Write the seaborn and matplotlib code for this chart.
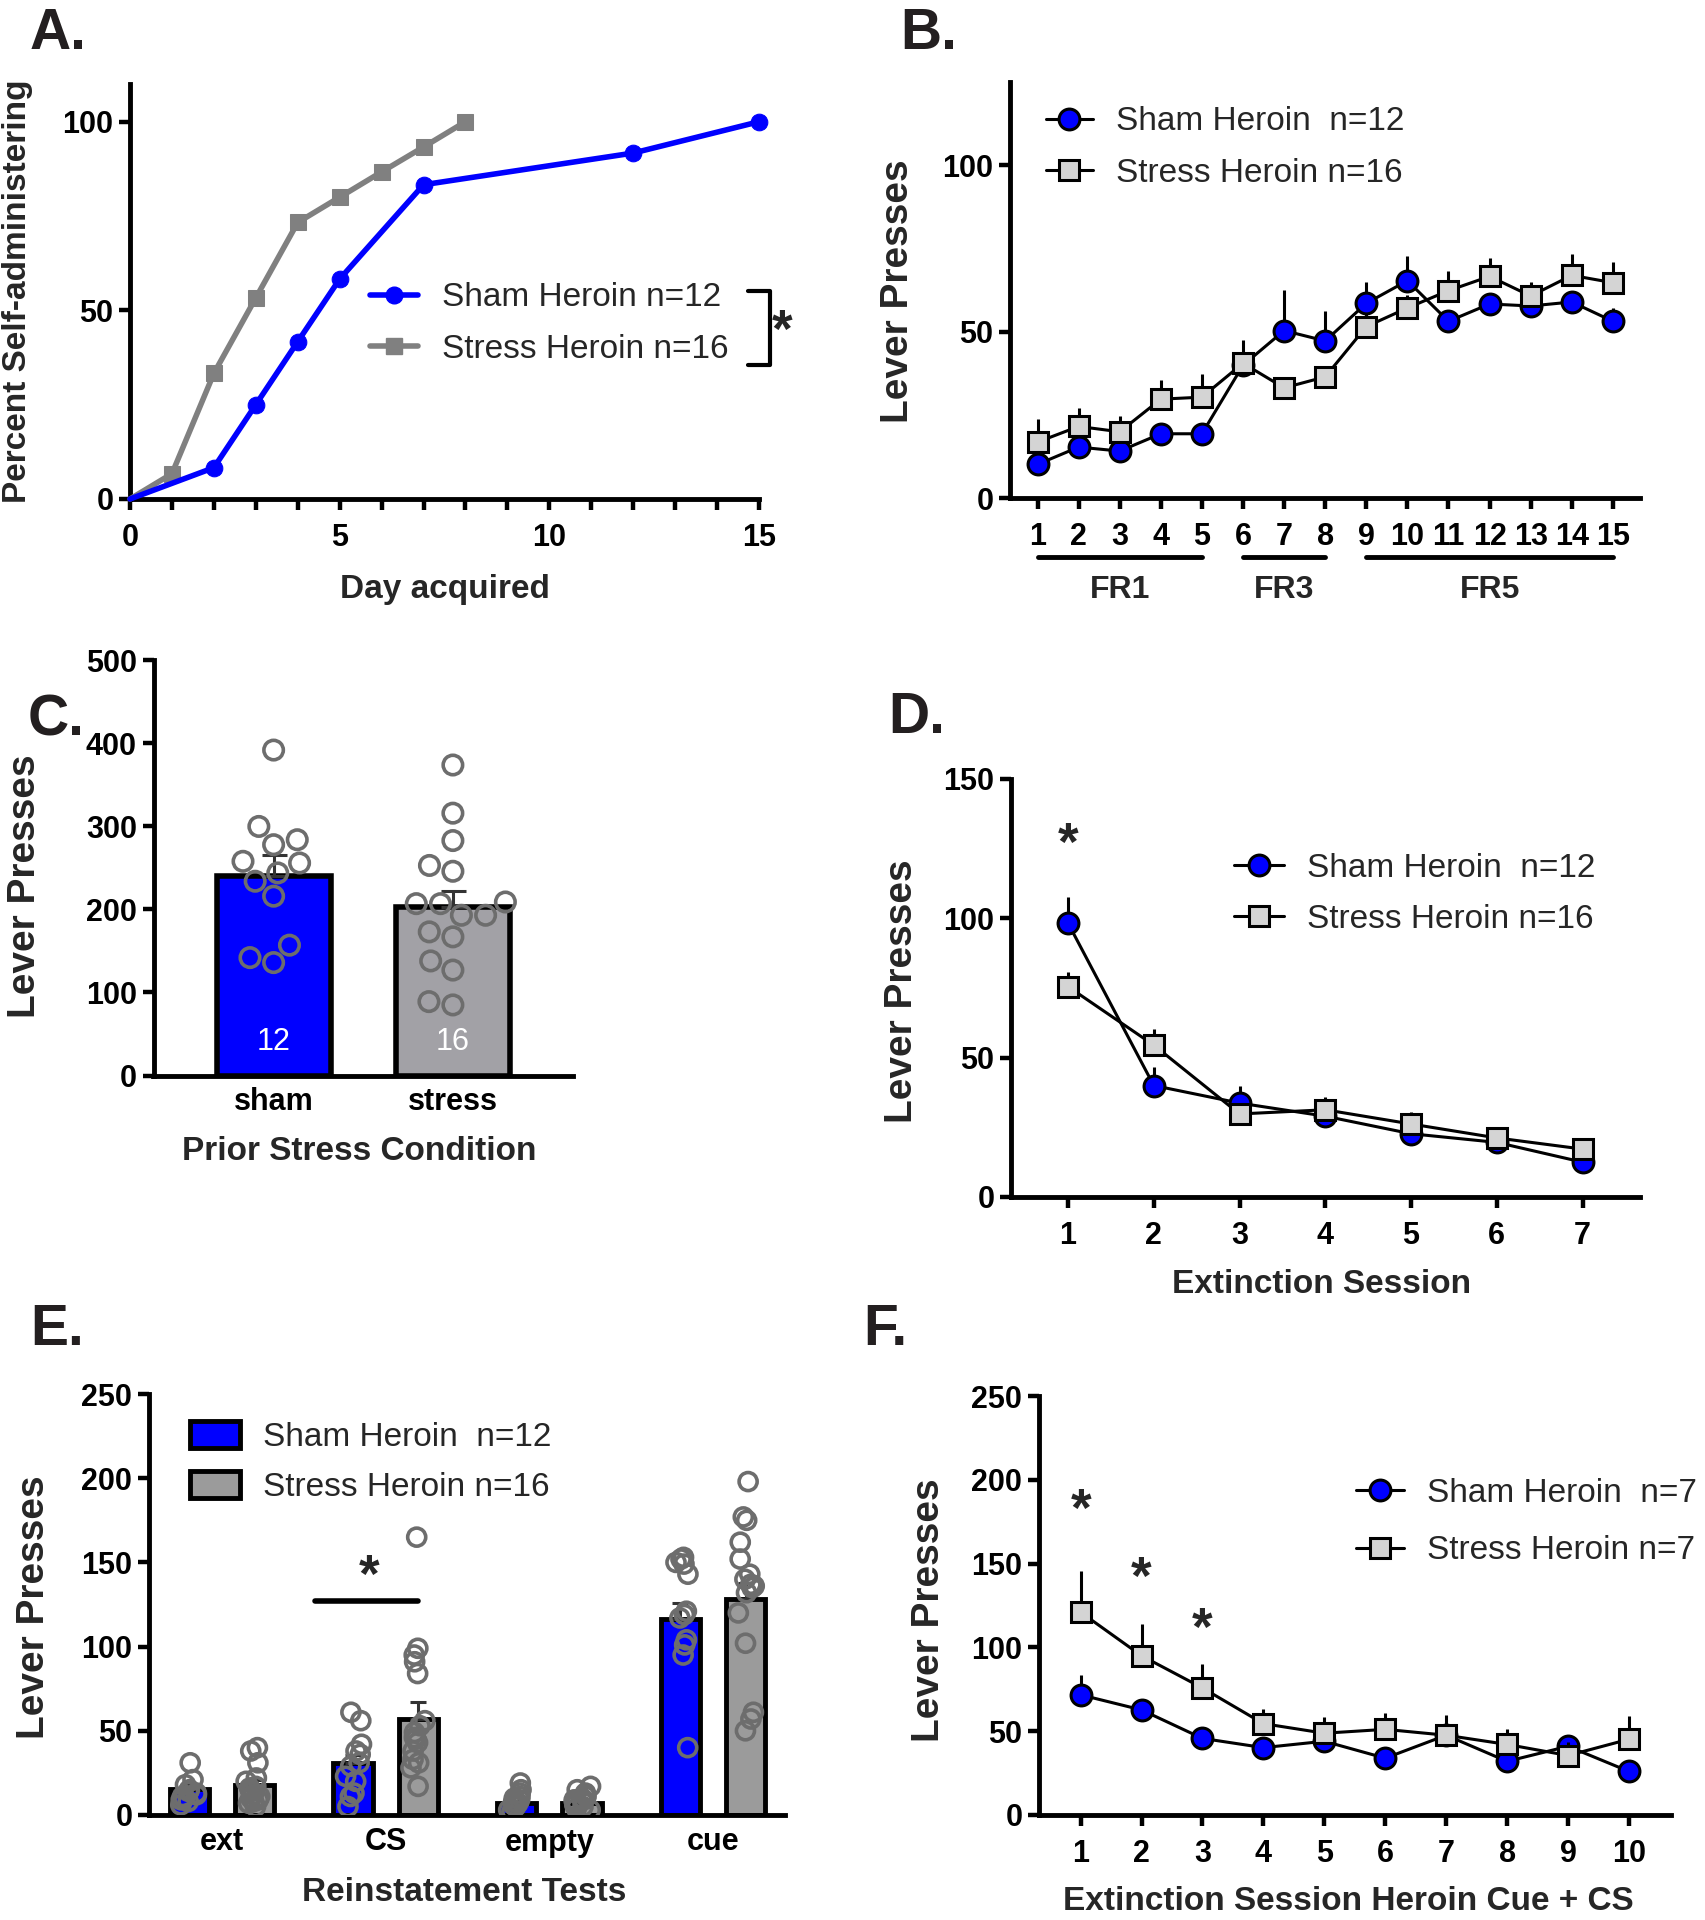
import numpy as np
import pandas as pd
import matplotlib
matplotlib.use("Agg")
import matplotlib.pyplot as plt
from matplotlib.lines import Line2D
from matplotlib.patches import Patch
from matplotlib.container import BarContainer
from matplotlib.ticker import MultipleLocator
import seaborn as sns

# ---------------- DATA ----------------
# Panel A
A_sham_day = [0, 2, 3, 4, 5, 7, 12, 15]
A_sham_pct = [0, 8.3, 25.0, 41.7, 58.3, 83.3, 91.7, 100]
A_stress_day = [0, 1, 2, 3, 4, 5, 6, 7, 8]
A_stress_pct = [0, 6.7, 33.3, 53.3, 73.3, 80.0, 86.7, 93.3, 100]
A_labels = ["Sham Heroin n=12", "Stress Heroin n=16"]

# Panel B
B_session = list(range(1, 16))
B_sham = [10.1, 15.3, 14.1, 19.3, 19.3, 39.9, 50.3, 47.2, 58.5, 65.3, 53.1, 58.3, 57.7, 58.9, 53.1]
B_sham_sem = [2, 2, 2, 2, 2, 2, 12.3, 9, 6.3, 7.5, 2, 2, 2, 2, 4]
B_stress = [16.8, 21.5, 19.9, 29.7, 30.3, 40.5, 33.1, 36.4, 51.5, 57.1, 62.3, 66.6, 60.7, 66.9, 64.7]
B_stress_sem = [6.9, 5.5, 4.6, 5.9, 7.1, 7.0, 3, 3, 4, 4, 5.8, 5.5, 4.3, 6.3, 6.3]
B_phases = ["FR1", "FR3", "FR5"]
B_phase_start = [1, 6, 9]
B_phase_end = [5, 8, 15]
LINE_labels = ["Sham Heroin  n=12", "Stress Heroin n=16"]

# Panel C
C_groups = ["sham", "stress"]
C_means = [240, 203]
C_sem = [25, 19]
C_n = ["12", "16"]
C_sham_pts = [392, 284, 300, 278, 256, 244, 234, 216, 157, 136, 142, 258]
C_stress_pts = [374, 316, 283, 246, 253, 207, 207, 209, 193, 193, 167, 173, 127, 138, 85, 89]

# Panel D
D_session = list(range(1, 8))
D_sham = [98.3, 40.0, 33.7, 29.0, 22.7, 19.6, 12.5]
D_sham_sem = [9.4, 6.5, 6.0, 2.5, 2, 2, 2]
D_stress = [75.5, 54.5, 29.8, 31.3, 26.2, 21.2, 17.2]
D_stress_sem = [5.2, 5.8, 3, 4.7, 4.4, 3, 3]
D_star_session = [1]
D_star_y = [126]

# Panel E
E_tests = ["ext", "CS", "empty", "cue"]
E_groups = ["Sham Heroin  n=12", "Stress Heroin n=16"]
E_sham_means = [15.6, 30.7, 7.0, 116.3]
E_stress_means = [17.9, 57.3, 7.0, 128.5]
E_sham_sem = [2.5, 5, 1.5, 9.5]
E_stress_sem = [3, 10, 1, 9]
E_sham_pts = {
    "ext": [31, 21, 18, 15, 13, 12, 11, 10, 9, 8, 6, 14],
    "CS": [61, 56, 42, 38, 36, 31, 29, 23, 20, 13, 11, 5],
    "empty": [19, 15, 13, 11, 10, 9, 8, 7, 6, 5, 3, 2],
    "cue": [153, 152, 149, 150, 143, 121, 119, 117, 104, 101, 95, 40],
}
E_stress_pts = {
    "ext": [40, 38, 31, 22, 20, 17, 15, 12, 10, 9, 8, 7, 5, 11, 14, 16],
    "CS": [165, 99, 95, 91, 84, 56, 53, 49, 46, 43, 38, 33, 31, 28, 17, 45],
    "empty": [17, 15, 13, 12, 11, 10, 9, 9, 8, 8, 7, 6, 6, 5, 4, 3],
    "cue": [198, 177, 175, 162, 152, 143, 137, 136, 135, 132, 120, 102, 61, 57, 50, 140],
}
E_sig_from, E_sig_to, E_sig_y = 0.57, 1.20, 127
E_star_x, E_star_y = 0.90, 141

# Panel F
F_session = list(range(1, 11))
F_sham = [71.7, 62.7, 45.7, 40.2, 44.0, 33.9, 47.6, 32.0, 41.0, 26.0]
F_sham_sem = [12, 4, 3, 3, 3, 3, 4, 3, 4, 3]
F_stress = [121, 95, 75.8, 54.5, 48.8, 51.1, 47.6, 42.1, 35.5, 45.2]
F_stress_sem = [24.6, 19, 14.4, 9, 9.5, 10, 12, 9, 8, 14]
F_labels = ["Sham Heroin  n=7", "Stress Heroin n=7"]
F_star_session = [1, 2, 3]
F_star_y = [181, 140, 110]

# ---------------- STYLE ----------------
sns.set_theme(style="ticks")
plt.rcParams["font.family"] = ["Liberation Sans", "DejaVu Sans"]
BLUE = "#0000FF"
GREY_A = "#808080"
GREY_C = "#A2A1A6"
GREY_E = "#9B9B9B"
SQ = "#D4D4D4"
PT = "#6D6D6D"
LETTER = "#231F20"
TICK_FS = 22
XLAB_FS = 24
YLAB_FS = 28
LEG_FS = 24
STAR_FS = 38

W, H = 1705, 1920
fig = plt.figure(figsize=(W / 100, H / 100), dpi=100)


def add_ax(left, right, top, bottom):
    return fig.add_axes([left / W, 1 - bottom / H, (right - left) / W, (bottom - top) / H])


def style(ax, xticks=True):
    for s in ["top", "right"]:
        ax.spines[s].set_visible(False)
    for s in ["left", "bottom"]:
        ax.spines[s].set_linewidth(3.5)
        ax.spines[s].set_color("black")
    ax.tick_params(axis="both", which="both", width=3.2, length=8, color="black",
                   labelsize=TICK_FS, labelcolor="black", direction="out")
    ax.tick_params(axis="x", pad=9)
    ax.tick_params(axis="y", pad=4)
    if not xticks:
        ax.tick_params(axis="x", length=0)
    for lab in ax.get_xticklabels() + ax.get_yticklabels():
        lab.set_fontweight("bold")
    ax.set_facecolor("white")


def letter(x, y, s):
    fig.text(x / W, 1 - y / H, s, fontsize=41, fontweight="bold", color=LETTER,
             ha="left", va="baseline")


def legend(ax, x, y, handles=None, labels=None, hl=1.43, ls=0.6, hh=0.7):
    kw = dict(loc="center left", bbox_to_anchor=(x / W, 1 - y / H),
              bbox_transform=fig.transFigure, frameon=False, fontsize=LEG_FS,
              handlelength=hl, handletextpad=0.7, labelspacing=ls, borderpad=0,
              borderaxespad=0, numpoints=1, handleheight=hh)
    if handles is None:
        leg = ax.legend(**kw)
    else:
        leg = ax.legend(handles, labels, **kw)
    return leg


def line_panel(ax, x, ys, es, yst, est, labels):
    zeros = np.zeros(len(x))
    ax.errorbar(x, ys, yerr=[zeros, es], fmt="none", ecolor="black", elinewidth=2.2,
                capsize=0, zorder=2)
    sns.lineplot(x=x, y=ys, ax=ax, color="black", linewidth=2.2, marker="o",
                 markersize=15, markerfacecolor=BLUE, markeredgecolor="black",
                 markeredgewidth=2.2, label=labels[0], zorder=3, errorbar=None)
    ax.errorbar(x, yst, yerr=[zeros, est], fmt="none", ecolor="black", elinewidth=2.2,
                capsize=0, zorder=4)
    sns.lineplot(x=x, y=yst, ax=ax, color="black", linewidth=2.2, marker="s",
                 markersize=15, markerfacecolor=SQ, markeredgecolor="black",
                 markeredgewidth=2.2, label=labels[1], zorder=5, errorbar=None)


# ---------------- PANEL A ----------------
axA = add_ax(130, 759, 84, 499)
sns.lineplot(x=A_sham_day, y=A_sham_pct, ax=axA, color=BLUE, linewidth=4, marker="o",
             markersize=12, markeredgecolor=BLUE, markerfacecolor=BLUE,
             markevery=list(range(1, len(A_sham_day))), errorbar=None, zorder=4,
             clip_on=False)
sns.lineplot(x=A_stress_day, y=A_stress_pct, ax=axA, color=GREY_A, linewidth=4, marker="s",
             markersize=12, markeredgecolor=GREY_A, markerfacecolor=GREY_A,
             markevery=list(range(1, len(A_stress_day))), errorbar=None, zorder=3,
             clip_on=False)
axA.set_xlim(0, 15)
axA.set_ylim(0, 110)
axA.set_xticks([0, 5, 10, 15])
axA.xaxis.set_minor_locator(MultipleLocator(1))
axA.set_yticks([0, 50, 100])
axA.set_xlabel("Day acquired", fontsize=XLAB_FS, fontweight="bold")
axA.set_ylabel("Percent Self-administering", fontsize=24, fontweight="bold")
axA.xaxis.set_label_coords(0.5, -0.18)
axA.yaxis.set_label_coords(-0.154, 0.5)
style(axA)
hA = [Line2D([], [], color=BLUE, linewidth=4, marker="o", markersize=12),
      Line2D([], [], color=GREY_A, linewidth=4, marker="s", markersize=12)]
legend(axA, 370, 323.5, hA, A_labels, hl=1.45)
axA.plot([0.9825, 1.0175, 1.0175, 0.9825], [0.501, 0.501, 0.323, 0.323],
         transform=axA.transAxes, clip_on=False, color="black", linewidth=3)
axA.text(1.037, 0.40, "*", transform=axA.transAxes, fontsize=STAR_FS,
         fontweight="bold", ha="center", va="center")

# ---------------- PANEL B ----------------
axB = add_ax(1010, 1640, 82, 498)
line_panel(axB, B_session, B_sham, B_sham_sem, B_stress, B_stress_sem, LINE_labels)
axB.set_xlim(0.33, 15.66)
axB.set_ylim(0, 125)
axB.set_xticks(B_session)
axB.set_yticks([0, 50, 100])
axB.set_xlabel("")
axB.set_ylabel("Lever Presses", fontsize=YLAB_FS, fontweight="bold")
axB.yaxis.set_label_coords(-0.149, 0.498)
style(axB)
legend(axB, 1046, 147.5, hl=1.4)
tr = axB.get_xaxis_transform()
for name, s, e in zip(B_phases, B_phase_start, B_phase_end):
    axB.plot([s, e], [-0.141, -0.141], transform=tr, clip_on=False, color="black",
             linewidth=3.5, solid_capstyle="round")
    axB.text((s + e) / 2, -0.222, name, transform=tr, ha="center", va="center",
             fontsize=23, fontweight="bold")

# ---------------- PANEL C ----------------
axC = add_ax(153.5, 573, 660.4, 1075.5)
sns.barplot(x=C_groups, y=C_means, hue=C_groups, palette=[BLUE, GREY_C], legend=False,
            width=0.635, edgecolor="black", linewidth=4, errorbar=None, saturation=1,
            ax=axC, zorder=2)
for p in list(axC.patches):
    cx = p.get_x() + p.get_width() / 2
    i = int(round(cx))
    axC.errorbar([cx], [C_means[i]], yerr=[[0], [C_sem[i]]], fmt="none", ecolor="#333333",
                 elinewidth=2.2, capsize=9, capthick=2.2, zorder=3)
    axC.text(cx, 40, C_n[i], color="white", fontsize=22, ha="center", va="center", zorder=5)
dfC = pd.DataFrame({"group": ["sham"] * len(C_sham_pts) + ["stress"] * len(C_stress_pts),
                    "value": C_sham_pts + C_stress_pts})
n0 = len(axC.collections)
sns.swarmplot(data=dfC, x="group", y="value", order=C_groups, size=14, color=PT,
              linewidth=2.6, ax=axC, zorder=4)
for c in axC.collections[n0:]:
    c.set_facecolor("none")
    c.set_edgecolor(PT)
    c.set_linewidth(2.6)
axC.set_xlim(-0.67, 1.67)
axC.set_ylim(0, 500)
axC.set_yticks([0, 100, 200, 300, 400, 500])
axC.set_xlabel("Prior Stress Condition", fontsize=XLAB_FS, fontweight="bold")
axC.set_ylabel("Lever Presses", fontsize=YLAB_FS, fontweight="bold")
axC.xaxis.set_label_coords(0.49, -0.145)
axC.yaxis.set_label_coords(-0.263, 0.457)
style(axC, xticks=False)
axC.tick_params(axis="x", labelsize=22, pad=8)

# ---------------- PANEL D ----------------
axD = add_ax(1011, 1640, 779, 1197)
line_panel(axD, D_session, D_sham, D_sham_sem, D_stress, D_stress_sem, LINE_labels)
axD.set_xlim(0.335, 7.67)
axD.set_ylim(0, 150)
axD.set_xticks(D_session)
axD.set_yticks([0, 50, 100, 150])
axD.set_xlabel("Extinction Session", fontsize=XLAB_FS, fontweight="bold")
axD.set_ylabel("Lever Presses", fontsize=YLAB_FS, fontweight="bold")
axD.xaxis.set_label_coords(0.494, -0.173)
axD.yaxis.set_label_coords(-0.145, 0.493)
style(axD)
legend(axD, 1234, 894, hl=1.5)
for sx, sy in zip(D_star_session, D_star_y):
    axD.text(sx, sy, "*", fontsize=STAR_FS, fontweight="bold", ha="center", va="center")

# ---------------- PANEL E ----------------
axE = add_ax(149, 785, 1394, 1815)
dfE = pd.DataFrame({"test": E_tests * 2,
                    "group": [E_groups[0]] * 4 + [E_groups[1]] * 4,
                    "value": E_sham_means + E_stress_means})
sns.barplot(data=dfE, x="test", y="value", hue="group", order=E_tests, hue_order=E_groups,
            palette=[BLUE, GREY_E], width=0.8, gap=0.4, edgecolor="black", linewidth=3.5,
            errorbar=None, legend=False, saturation=1, ax=axE, zorder=2)
E_sems = [E_sham_sem, E_stress_sem]
E_means_all = [E_sham_means, E_stress_means]
bar_conts = [c for c in axE.containers if isinstance(c, BarContainer)]
for gi, cont in enumerate(bar_conts):
    for ti, p in enumerate(cont.patches):
        cx = p.get_x() + p.get_width() / 2
        axE.errorbar([cx], [E_means_all[gi][ti]], yerr=[[0], [E_sems[gi][ti]]], fmt="none",
                     ecolor="#333333", elinewidth=2.2, capsize=6, capthick=2.2, zorder=3)
rows = []
for g, pts in zip(E_groups, [E_sham_pts, E_stress_pts]):
    for t in E_tests:
        for v in pts[t]:
            rows.append((t, g, v))
dfEp = pd.DataFrame(rows, columns=["test", "group", "value"])
np.random.seed(3)
n0 = len(axE.collections)
sns.stripplot(data=dfEp, x="test", y="value", hue="group", order=E_tests, hue_order=E_groups,
              dodge=True, jitter=0.11, size=13, linewidth=2.6, palette=[PT, PT],
              legend=False, ax=axE, zorder=4)
for c in axE.collections[n0:]:
    c.set_facecolor("none")
    c.set_edgecolor(PT)
    c.set_linewidth(2.6)
axE.plot([E_sig_from, E_sig_to], [E_sig_y, E_sig_y], color="black", linewidth=4,
         solid_capstyle="round", zorder=5)
axE.text(E_star_x, E_star_y, "*", fontsize=STAR_FS, fontweight="bold", ha="center",
         va="center", zorder=5)
axE.set_xlim(-0.446, 3.44)
axE.set_ylim(0, 250)
axE.set_yticks([0, 50, 100, 150, 200, 250])
axE.set_xlabel("Reinstatement Tests", fontsize=XLAB_FS, fontweight="bold")
axE.set_ylabel("Lever Presses", fontsize=YLAB_FS, fontweight="bold")
axE.xaxis.set_label_coords(0.495, -0.148)
axE.yaxis.set_label_coords(-0.153, 0.494)
style(axE, xticks=False)
hE = [Patch(facecolor=BLUE, edgecolor="black", linewidth=3.5),
      Patch(facecolor=GREY_E, edgecolor="black", linewidth=3.5)]
legend(axE, 190, 1462, hE, E_groups, hl=1.5, hh=0.85, ls=0.55)

# ---------------- PANEL F ----------------
axF = add_ax(1039, 1671, 1396, 1815)
line_panel(axF, F_session, F_sham, F_sham_sem, F_stress, F_stress_sem, F_labels)
axF.set_xlim(0.317, 10.69)
axF.set_ylim(0, 250)
axF.set_xticks(F_session)
axF.set_yticks([0, 50, 100, 150, 200, 250])
axF.set_xlabel("Extinction Session Heroin Cue + CS", fontsize=XLAB_FS, fontweight="bold")
axF.set_ylabel("Lever Presses", fontsize=YLAB_FS, fontweight="bold")
axF.xaxis.set_label_coords(0.49, -0.17)
axF.yaxis.set_label_coords(-0.146, 0.49)
style(axF)
legend(axF, 1356, 1522, hl=1.43, ls=0.8)
for sx, sy in zip(F_star_session, F_star_y):
    axF.text(sx, sy, "*", fontsize=STAR_FS, fontweight="bold", ha="center", va="center")

# ---------------- LETTERS ----------------
letter(30, 49, "A.")
letter(900, 49, "B.")
letter(28, 736, "C.")
letter(888, 733, "D.")
letter(30, 1345, "E.")
letter(863, 1345, "F.")

fig.savefig("out.png", dpi=100, facecolor="white")
